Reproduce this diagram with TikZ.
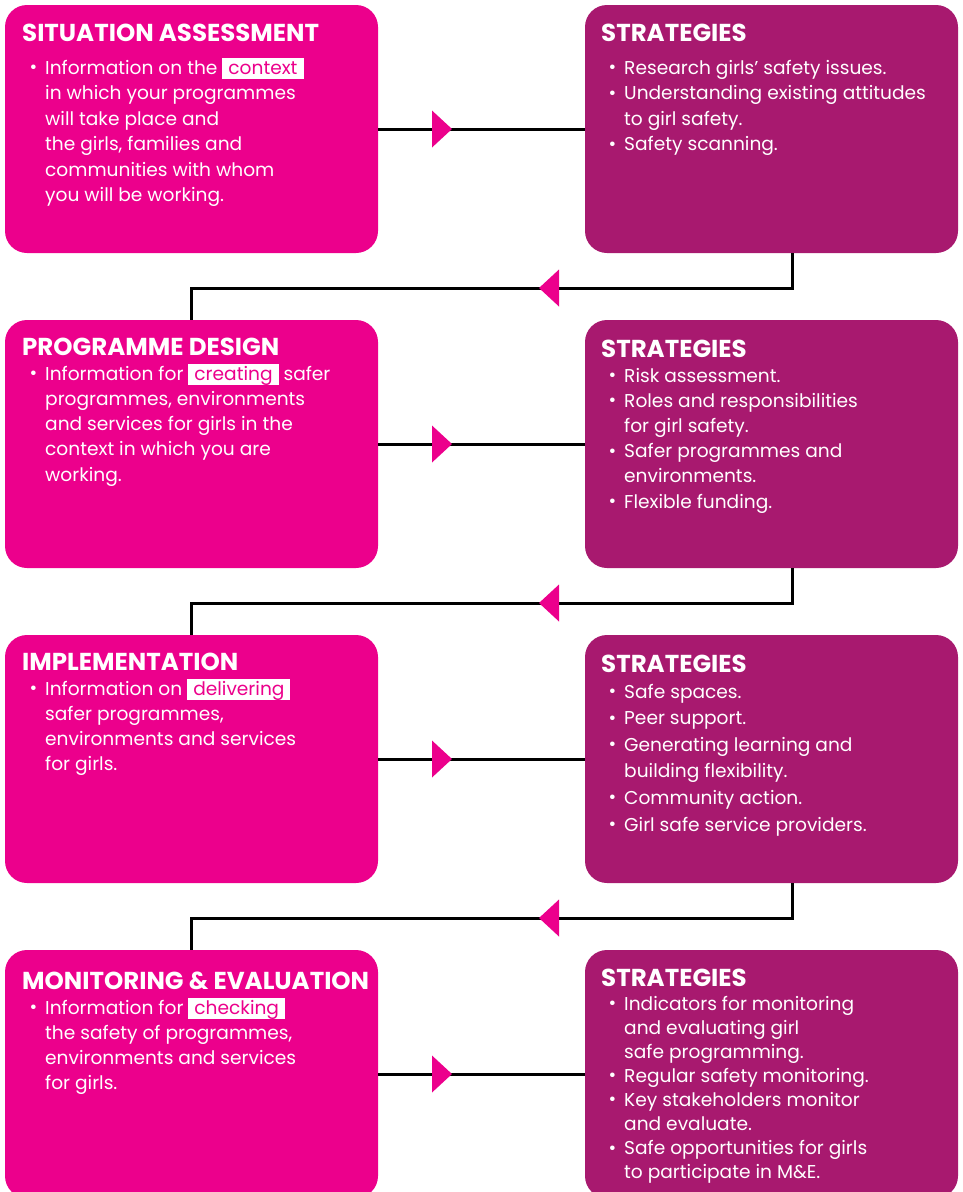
\documentclass[tikz,border=0pt]{standalone}
\usepackage{fontspec}
\setmainfont{Poppins}
\definecolor{mag}{HTML}{EC008C}
\definecolor{plum}{HTML}{A8196F}
\newcommand\bl{\makebox[0pt][r]{\raisebox{0.5pt}{•}\hspace{8pt}}}
\newcommand\hlw[1]{{\setlength{\fboxsep}{0pt}\colorbox{white}{\rule[-5pt]{0pt}{21pt}\hspace{6pt}\textcolor{mag}{#1}\hspace{6pt}}}}
\begin{document}
\begin{tikzpicture}[x=1pt,y=-1pt,
  lbox/.style={fill=mag, rounded corners=22pt, minimum width=373pt, minimum height=248pt, inner sep=0pt},
  rbox/.style={lbox, fill=plum},
  conn/.style={line width=3pt, black},
  ttl/.style={anchor=base west, inner sep=0pt, text=white, font=\fontsize{24.5}{28}\selectfont\bfseries},
  body/.style={anchor=base west, inner sep=0pt, text=white, font=\fontsize{18.6}{#1}\selectfont},
  tri right/.pic={\fill[mag] (-10,-18.5) -- (10,0) -- (-10,18.5) -- cycle;},
  tri left/.pic={\fill[mag] (10,-18.5) -- (-10,0) -- (10,18.5) -- cycle;},
]
\useasboundingbox (0,0) rectangle (962,1192);
\clip (0,0) rectangle (962,1192);
% boxes
\node[lbox] (sa) at (191.5,129) {};
\node[rbox] (s1) at (771.5,129) {};
\node[lbox] (pd) at (191.5,444) {};
\node[rbox] (s2) at (771.5,444) {};
\node[lbox] (im) at (191.5,759) {};
\node[rbox] (s3) at (771.5,759) {};
\node[lbox] (me) at (191.5,1074) {};
\node[rbox] (s4) at (771.5,1074) {};
% connectors
\draw[conn] (sa) -- (s1);
\draw[conn] (pd) -- (s2);
\draw[conn] (im) -- (s3);
\draw[conn] (me) -- (s4);
\draw[conn] ([xshift=20.5pt]s1.south) -- ++(0,35) -| (pd.north);
\draw[conn] ([xshift=20.5pt]s2.south) -- ++(0,35) -| (im.north);
\draw[conn] ([xshift=20.5pt]s3.south) -- ++(0,35) -| (me.north);
\pic at (442,129) {tri right};
\pic at (442,444) {tri right};
\pic at (442,759) {tri right};
\pic at (442,1074) {tri right};
\pic at (549,288) {tri left};
\pic at (549,603) {tri left};
\pic at (549,918) {tri left};
% row 1
\node[ttl] (sa-h) at (22,41) {SITUATION ASSESSMENT};
\node[body=25.5] (sa-t) at (45,74) {\parbox[t]{330pt}{\raggedright
\bl Information on the \hlw{context}\\
in which your programmes\\
will take place and\\
the girls, families and\\
communities with whom\\
you will be working.}};
\node[ttl] (s1-h) at (601,41) {STRATEGIES};
\node[body=25.5] (s1-t) at (624,74) {\parbox[t]{330pt}{\raggedright
\bl Research girls’ safety issues.\\
\bl Understanding existing attitudes\\
to girl safety.\\
\bl Safety scanning.}};
% row 2
\node[ttl] (pd-h) at (22,355) {PROGRAMME DESIGN};
\node[body=25.3] (pd-t) at (45,380) {\parbox[t]{330pt}{\raggedright
\bl Information for \hlw{creating} safer\\
programmes, environments\\
and services for girls in the\\
context in which you are\\
working.}};
\node[ttl] (s2-h) at (601,357) {STRATEGIES};
\node[body=25.2] (s2-t) at (624,382) {\parbox[t]{330pt}{\raggedright
\bl Risk assessment.\\
\bl Roles and responsibilities\\
for girl safety.\\
\bl Safer programmes and\\
environments.\\
\bl Flexible funding.}};
% row 3
\node[ttl] (im-h) at (22,670) {IMPLEMENTATION};
\node[body=25.3] (im-t) at (45,695) {\parbox[t]{330pt}{\raggedright
\bl Information on \hlw{delivering}\\
safer programmes,\\
environments and services\\
for girls.}};
\node[ttl] (s3-h) at (601,672) {STRATEGIES};
\node[body=26.6] (s3-t) at (624,698) {\parbox[t]{330pt}{\raggedright
\bl Safe spaces.\\
\bl Peer support.\\
\bl Generating learning and\\
building flexibility.\\
\bl Community action.\\
\bl Girl safe service providers.}};
% row 4
\node[ttl] (me-h) at (22,989) {MONITORING \& EVALUATION};
\node[body=25.2] (me-t) at (45,1014) {\parbox[t]{330pt}{\raggedright
\bl Information for \hlw{checking}\\
the safety of programmes,\\
environments and services\\
for girls.}};
\node[ttl] (s4-h) at (601,986) {STRATEGIES};
\node[body=24.1] (s4-t) at (624,1010) {\parbox[t]{330pt}{\raggedright
\bl Indicators for monitoring\\
and evaluating girl\\
safe programming.\\
\bl Regular safety monitoring.\\
\bl Key stakeholders monitor\\
and evaluate.\\
\bl Safe opportunities for girls\\
to participate in M\&E.}};
\end{tikzpicture}
\end{document}
